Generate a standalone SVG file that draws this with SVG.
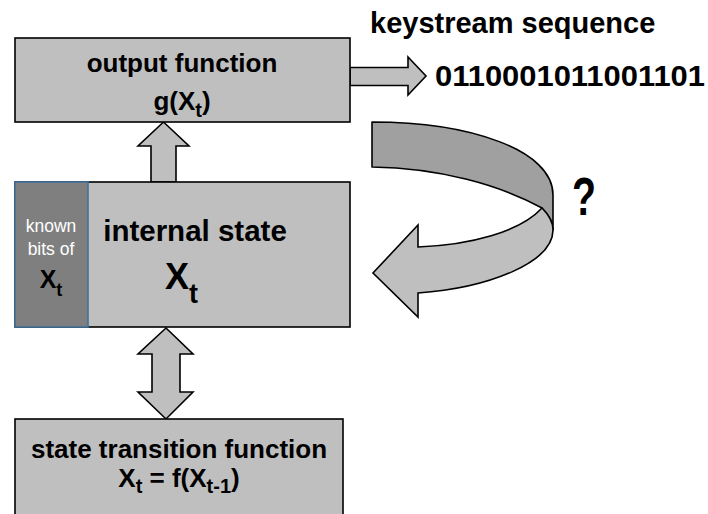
<svg xmlns="http://www.w3.org/2000/svg" width="708" height="514" viewBox="0 0 708 514">
<style>
.box{fill:#bfbfbf;stroke:#000;stroke-width:1.6}
.arr{fill:#bfbfbf;stroke:#000;stroke-width:1.6;stroke-linejoin:miter}
.t{font-family:"Liberation Sans",Arial,sans-serif;font-weight:bold;fill:#000}
.w{font-family:"Liberation Sans",Arial,sans-serif;fill:#fff}
</style>
<rect width="708" height="514" fill="#fff"/>
<g id="connectors">
<polygon class="arr" points="163.5,122 189,146 176,146 176,182 151,182 151,146 138,146"/>
<polygon class="arr" points="166,328 193,354 180,354 180,392 193,392 166,419 138,392 152,392 152,354 138,354"/>
<polygon class="arr" points="350,67.5 408,67.5 408,57 426,76 408,95 408,85.5 350,85.5"/>
<g id="feedback-arrow">
<path d="M372,122 C470,122 553,150 553,195 L553,230 C553,222 548,214 542,208 C500,185 440,168 372,167 Z" fill="#a0a0a0" stroke="#000" stroke-width="1.6" stroke-linejoin="round"/>
<path d="M542,208 C520,232 470,245 418,247 L418,225 L373,273 L418,317 L418,293 C490,288 553,262 553,230 C553,222 548,214 542,208 Z" fill="#bfbfbf" stroke="#000" stroke-width="1.6" stroke-linejoin="miter"/>
</g>
</g>
<g id="node-output">
<rect class="box" x="15" y="38" width="335" height="84"/>
<text class="t" x="182" y="72" font-size="26" text-anchor="middle">output function</text>
<text class="t" x="182" y="110" font-size="26" text-anchor="middle">g(X<tspan font-size="20" dy="7">t</tspan><tspan dy="-7">)</tspan></text>
</g>
<g id="node-keystream">
<text class="t" x="370" y="33" font-size="29">keystream sequence</text>
<text class="t" x="435" y="86" font-size="30" textLength="270" lengthAdjust="spacingAndGlyphs">0110001011001101</text>
</g>
<g id="node-state">
<rect class="box" x="15" y="182" width="335" height="145"/>
<rect x="15" y="182" width="73" height="145" fill="#7f7f7f" stroke="#41719c" stroke-width="1.6"/>
<text class="w" x="51" y="232" font-size="17.5" text-anchor="middle">known</text>
<text class="w" x="51" y="255" font-size="17.5" text-anchor="middle">bits of</text>
<text class="t" x="51" y="288" font-size="25" text-anchor="middle">X<tspan font-size="18" dy="8">t</tspan></text>
<text class="t" x="195" y="241" font-size="29.5" text-anchor="middle">internal state</text>
<text class="t" x="165" y="289" font-size="36">X<tspan font-size="27" dy="14">t</tspan></text>
</g>
<g id="node-transition">
<rect class="box" x="15" y="419" width="328" height="110"/>
<text class="t" x="179" y="458" font-size="26" text-anchor="middle">state transition function</text>
<text class="t" x="179" y="487" font-size="26" text-anchor="middle">X<tspan font-size="20" dy="6">t</tspan><tspan dy="-6"> = f(X</tspan><tspan font-size="20" dy="6">t-1</tspan><tspan dy="-6">)</tspan></text>
</g>
<g id="label-question">
<text class="t" x="572" y="215" font-size="54" textLength="24" lengthAdjust="spacingAndGlyphs">?</text>
</g>
</svg>
